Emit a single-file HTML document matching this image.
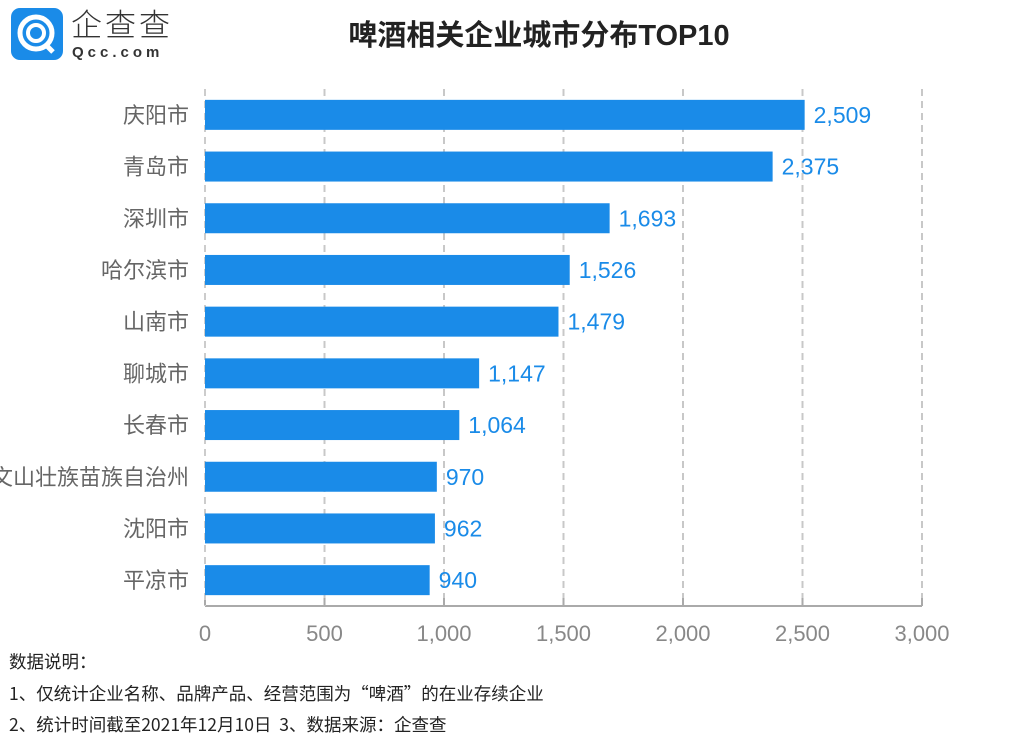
<!DOCTYPE html>
<html><head><meta charset="utf-8">
<style>
body{margin:0;width:1026px;height:737px;background:#fff;overflow:hidden;font-family:"Liberation Sans","Noto Sans CJK SC",sans-serif;position:relative}
.t{position:absolute;white-space:nowrap}
.n{font-family:"Noto Sans CJK SC",sans-serif;font-size:17.5px;color:#222;line-height:20px}
</style></head>
<body>
<div style="position:absolute;left:11px;top:8px;width:52px;height:52px;border-radius:9px;background:#1a8be8">
<svg width="52" height="52" viewBox="0 0 52 52"><circle cx="25" cy="25" r="16" fill="none" stroke="#fff" stroke-width="5"/><circle cx="25" cy="25" r="8" fill="none" stroke="#fff" stroke-width="4"/><line x1="34" y1="36" x2="42" y2="44" stroke="#fff" stroke-width="5"/></svg>
</div>
<div class="t" style="left:71px;top:4px;font-size:31px;color:#333;letter-spacing:3px;font-family:'Noto Sans CJK SC',sans-serif;font-weight:300;line-height:38px">企查查</div>
<div class="t" style="left:72px;top:44px;font-size:15px;color:#333;letter-spacing:4px;font-weight:bold">Qcc.com</div>
<div class="t" style="left:0;width:1078px;text-align:center;top:18px;font-size:29px;font-weight:bold;color:#222;line-height:36px">啤酒相关企业城市分布TOP10</div>
<svg id="c" width="1026" height="737" style="position:absolute;left:0;top:0"></svg>
<div class="t n" style="left:9px;top:652px">数据说明：</div>
<div class="t n" style="left:9px;top:684px">1、仅统计企业名称、品牌产品、经营范围为“啤酒”的在业存续企业</div>
<div class="t n" style="left:9px;top:715px">2、统计时间截至2021年12月10日&nbsp;&nbsp;3、数据来源：企查查</div>
<script>
const categories=["庆阳市","青岛市","深圳市","哈尔滨市","山南市","聊城市","长春市","文山壮族苗族自治州","沈阳市","平凉市"];
const values=[2509,2375,1693,1526,1479,1147,1064,970,962,940];
const ticks=[0,500,1000,1500,2000,2500,3000];
const tickLabels=["0","500","1,000","1,500","2,000","2,500","3,000"];
const NS="http://www.w3.org/2000/svg",svg=document.getElementById('c');
const x0=205,x1=922,xMax=3000,yTop=89,yBot=606;
const X=v=>x0+(x1-x0)*v/xMax;
const band=(yBot-yTop)/categories.length;
const Y=i=>yTop+band*i+band/2;
function mk(t,a){const e=document.createElementNS(NS,t);for(const k in a)e.setAttribute(k,a[k]);svg.appendChild(e);return e;}
ticks.forEach((t,i)=>{
 if(i>0){const g=mk('line',{x1:X(t),x2:X(t),y1:yTop,y2:yBot,stroke:'#c8c8c8','stroke-width':2,'stroke-dasharray':'7,5'});
 
 }
 const k=mk('line',{x1:X(t),x2:X(t),y1:yBot-8,y2:yBot,stroke:'#aaa','stroke-width':2});
 
 
 const l=mk('text',{x:X(t),y:641,'text-anchor':'middle','font-size':22,fill:'#888'});l.textContent=tickLabels[i];
 
 
});
const ax=mk('line',{x1:x0,x2:x1,y1:yBot,y2:yBot,stroke:'#aaa','stroke-width':2});


const la=mk('line',{x1:x0,x2:x0,y1:yTop,y2:yBot,stroke:'#ccc','stroke-width':2,'stroke-dasharray':'7,5'});


categories.forEach((c,i)=>{
 const y=Y(i);
 const b=mk('rect',{x:x0,y:y-15,width:X(values[i])-x0,height:30,fill:'#1a8be8'});
 
 
 const v=mk('text',{x:X(values[i])+9,y:y+8,'font-size':23,fill:'#1a8be8'});v.textContent=values[i].toLocaleString('en-US');
 
 
 const t=mk('text',{x:189,y:y+8,'text-anchor':'end','font-size':22,fill:'#666'});t.textContent=c;
 
 
});
</script>
</body></html>
